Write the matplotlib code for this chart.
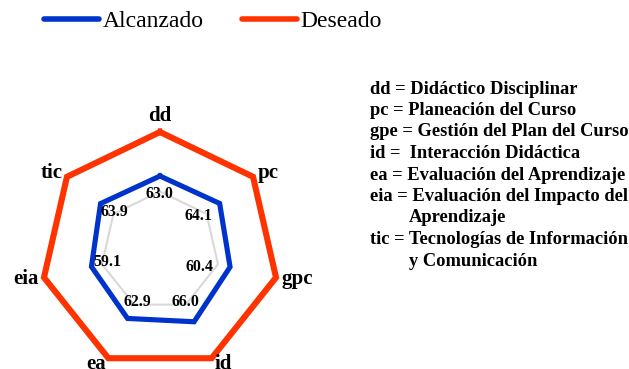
import numpy as np
import matplotlib
matplotlib.use("Agg")
import matplotlib.pyplot as plt

# data
categories = ["dd", "pc", "gpc", "id", "ea", "eia", "tic"]
alcanzado = [63.0, 64.1, 60.4, 66.0, 62.9, 59.1, 63.9]
deseado = [100, 100, 100, 100, 100, 100, 100]
grid_level = 50
glossary = [
    ("dd = Didáctico Disciplinar", 0),
    ("pc = Planeación del Curso", 0),
    ("gpe = Gestión del Plan del Curso", 0),
    ("id =  Interacción Didáctica", 0),
    ("ea = Evaluación del Aprendizaje", 0),
    ("eia = Evaluación del Impacto del", 0),
    ("Aprendizaje", 1),
    ("tic = Tecnologías de Información", 0),
    ("y Comunicación", 1),
]

# value label nudges (pixels, relative to the grid vertex)
label_offsets = [(-1, -3), (-8, -2), (-19, -3), (0, 3), (3, 3), (5, 2), (1, 2)]

BLUE = "#0033cc"
ORANGE = "#ff3300"
SERIF = "Liberation Serif"

W, H = 629, 369
fig = plt.figure(figsize=(W / 100, H / 100), dpi=100)

cx, cy, R = 160, 251, 119
ax = fig.add_axes([(cx - R) / W, (H - cy - R) / H, 2 * R / W, 2 * R / H],
                  projection="polar")
ax.set_theta_zero_location("N")
ax.set_theta_direction(-1)
ax.set_ylim(0, 100)
ax.axis("off")

n = len(categories)
theta = np.linspace(0, 2 * np.pi, n, endpoint=False)
closed = np.append(theta, theta[0])


def close(vals):
    return list(vals) + [vals[0]]


ax.plot(closed, close([grid_level] * n), color="#d9d9d9", lw=1.5, zorder=1)
ax.plot(closed, close(alcanzado), color=BLUE, lw=3.7,
        solid_joinstyle="miter", zorder=3)
ax.plot(closed, close(deseado), color=ORANGE, lw=4.4,
        solid_joinstyle="miter", zorder=3, clip_on=False)

# value labels
for t, v, (dx, dy) in zip(theta, alcanzado, label_offsets):
    ax.annotate(f"{v:.1f}", xy=(t, grid_level), xytext=(dx, dy),
                textcoords="offset pixels", ha="center", va="center",
                fontsize=11.4, fontweight="bold", family=SERIF, zorder=4)

# category labels
for t, name in zip(theta, categories):
    s = np.sin(t)
    if abs(s) < 0.1:
        ha, va = "center", "bottom"
    elif s > 0:
        ha, va = "left", "center"
    else:
        ha, va = "right", "center"
    ax.text(t, 105, name, ha=ha, va=va, fontsize=15, fontweight="bold",
            family=SERIF, clip_on=False)

# legend
handles = [plt.Line2D([], [], color=BLUE, lw=4, solid_capstyle="round"),
           plt.Line2D([], [], color=ORANGE, lw=4, solid_capstyle="round")]
fig.legend(handles, ["Alcanzado", "Deseado"], loc="center left",
           bbox_to_anchor=(44 / W, 1 - 21 / H), ncol=2, frameon=False,
           prop={"family": SERIF, "size": 17}, handlelength=2.35,
           handletextpad=0.15, columnspacing=1.6, borderpad=0,
           borderaxespad=0)

# glossary text
y0, step = 89, 21.5
for i, (line, indent) in enumerate(glossary):
    fig.text((370 + 39 * indent) / W, 1 - (y0 + i * step) / H, line,
             ha="left", va="center", fontsize=13.3, fontweight="bold",
             family=SERIF)

fig.savefig("out.png", dpi=100)
